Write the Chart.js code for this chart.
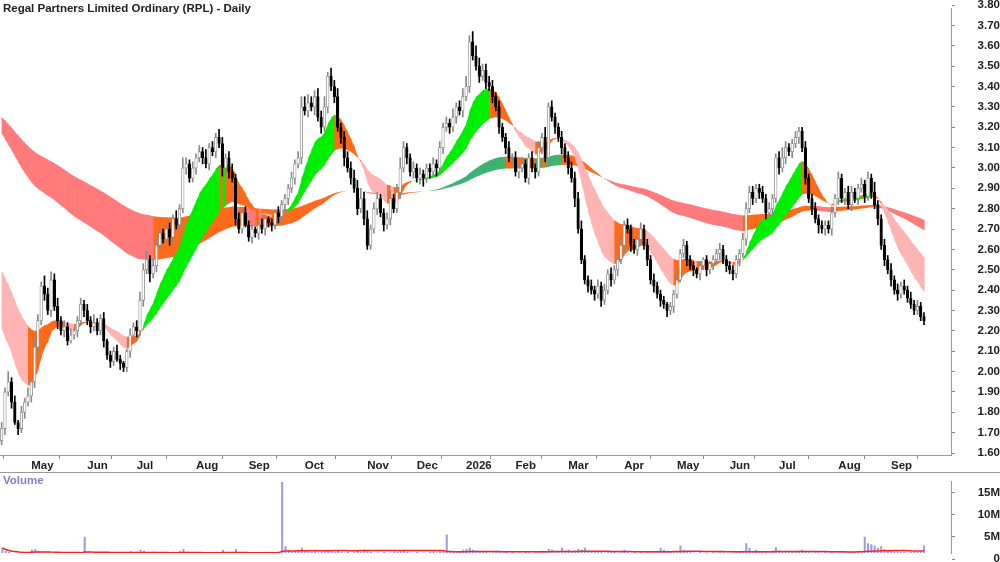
<!DOCTYPE html>
<html><head><meta charset="utf-8">
<script src="https://cdn.jsdelivr.net/npm/chart.js@4"></script>
<style>
body{margin:0;background:#fff;width:1000px;height:562px;overflow:hidden;position:relative;font-family:"Liberation Sans",Arial,sans-serif}
#t{position:absolute;left:3px;top:2px;font-weight:bold;font-size:11.5px;color:#222;z-index:2}
#v{position:absolute;left:3px;top:474px;font-weight:bold;font-size:11.5px;color:#8080c8;z-index:2}
#c1w{position:absolute;left:0;top:0;width:1000px;height:472px}
#c2w{position:absolute;left:0;top:472px;width:1000px;height:90px;border-top:1px solid #999;box-sizing:border-box}
</style></head><body>
<div id="t">Regal Partners Limited Ordinary (RPL) - Daily</div>
<div id="v">Volume</div>
<div id="c1w"><canvas id="c1"></canvas></div>
<div id="c2w"><canvas id="c2"></canvas></div>
<script>
const closes=[1.72,1.90,1.95,1.85,1.75,1.72,1.80,1.85,1.88,1.95,
2.12,2.25,2.42,2.38,2.30,2.45,2.32,2.25,2.20,2.22,
2.15,2.18,2.20,2.25,2.33,2.30,2.25,2.22,2.24,2.20,
2.26,2.15,2.08,2.05,2.10,2.06,2.04,2.02,2.10,2.18,
2.22,2.20,2.35,2.50,2.55,2.48,2.52,2.62,2.68,2.65,
2.70,2.66,2.75,2.72,2.80,3.00,3.02,2.95,3.00,3.05,
3.08,3.05,3.02,3.10,3.08,3.15,3.12,3.00,3.05,2.98,
2.95,2.75,2.70,2.78,2.72,2.66,2.70,2.68,2.72,2.70,
2.75,2.73,2.72,2.78,2.76,2.82,2.85,2.90,2.95,3.02,
3.05,3.30,3.28,3.32,3.30,3.35,3.25,3.20,3.30,3.45,
3.40,3.35,3.20,3.15,3.05,3.00,2.95,2.90,2.80,2.85,
2.75,2.62,2.70,2.80,2.85,2.78,2.72,2.75,2.85,2.80,
2.88,3.00,3.10,3.05,2.98,3.00,2.95,2.97,2.95,3.00,
2.98,3.02,3.00,3.10,3.20,3.22,3.20,3.25,3.30,3.28,
3.35,3.40,3.62,3.55,3.50,3.45,3.48,3.42,3.40,3.35,
3.30,3.20,3.15,3.10,3.05,3.05,2.98,3.00,3.02,2.95,
3.05,3.00,2.98,3.10,3.15,3.05,3.30,3.25,3.20,3.15,
3.10,3.05,3.00,2.95,2.85,2.70,2.55,2.45,2.42,2.40,
2.38,2.42,2.35,2.40,2.48,2.45,2.50,2.55,2.62,2.72,
2.70,2.62,2.60,2.65,2.70,2.62,2.55,2.45,2.42,2.38,
2.35,2.33,2.30,2.32,2.38,2.45,2.58,2.62,2.55,2.52,
2.50,2.48,2.52,2.55,2.50,2.53,2.55,2.58,2.60,2.55,
2.52,2.50,2.48,2.55,2.58,2.65,2.80,2.88,2.85,2.90,
2.88,2.85,2.78,2.80,2.85,3.05,3.00,3.05,3.10,3.08,
3.12,3.15,3.18,3.10,2.95,2.85,2.80,2.75,2.72,2.70,
2.72,2.70,2.78,2.85,2.95,2.85,2.88,2.82,2.88,2.85,
2.90,2.92,2.86,2.95,2.88,2.82,2.75,2.62,2.55,2.50,
2.45,2.40,2.38,2.42,2.40,2.36,2.33,2.30,2.32,2.27,2.25];
const firstOpen=1.66;
const upWickCents="3252313242432534342323123232422312232113234342323223242532323242324323423232212321213222323554334352434233344534233223424532232322232323242345355433332322323232232325232232333342232323232342323232323222122323222121212232222223333223232235322322322322223232233223232522323232323232";
const loWickCents="2323132323342323242321232323222323213223232324232224323232232323232423232212323232323433232323242323232342323232223232322323232342324332323232322323232323232322323232323232324222323232232323232322323232323212323232323232323232323232323232323232323242323232323232323232323232";
const volumes=[2.5,1.8,1.5,1.2,1.4,1.0,1.3,1.1,1.6,2.0,
2.2,1.8,1.5,1.3,1.6,1.2,1.1,1.4,1.0,1.2,
1.3,1.1,1.5,1.2,1.4,5.0,1.6,1.2,1.1,1.3,
1.0,1.2,1.4,1.1,0.9,1.3,1.2,1.0,1.5,1.7,
1.4,1.6,2.0,1.8,1.5,1.3,1.6,1.4,1.2,1.5,
1.3,1.1,1.6,1.4,1.8,2.2,1.6,1.3,1.5,1.2,
1.4,1.3,1.1,1.5,1.2,1.6,1.4,2.0,1.5,1.3,
1.6,2.2,1.5,1.2,1.4,1.3,1.1,1.2,1.5,1.3,
1.2,1.4,1.6,1.3,1.5,18.0,2.8,2.0,1.6,1.8,
2.0,2.5,1.8,1.6,1.5,1.7,1.4,1.6,1.8,2.0,
1.7,1.5,1.8,1.6,1.4,1.5,1.3,1.6,1.8,1.5,
2.0,1.7,1.5,1.3,1.4,1.2,1.5,1.3,1.4,1.6,
1.5,1.8,2.0,1.6,1.4,1.3,1.5,1.2,1.4,1.3,
1.5,1.6,1.4,1.7,1.9,5.5,1.8,1.5,1.6,1.7,
2.0,2.2,2.5,2.0,1.8,1.6,1.7,1.5,1.4,1.6,
1.8,1.5,1.4,1.6,1.3,1.5,1.2,1.4,1.3,1.5,
1.4,1.2,1.6,1.5,1.8,1.5,2.2,2.0,1.6,1.5,
2.5,1.8,2.0,1.6,1.8,2.2,2.0,2.5,1.8,1.6,
1.5,1.7,1.6,1.4,1.8,1.5,1.6,1.4,1.7,2.0,
1.6,1.4,1.5,1.3,1.5,1.4,1.6,1.5,1.7,1.8,
2.5,2.0,1.8,1.6,1.5,1.7,3.0,2.0,1.6,1.5,
1.4,1.3,1.5,1.2,1.4,1.3,1.5,1.4,1.6,1.5,
1.3,1.2,1.4,1.5,1.6,1.8,3.5,2.5,1.8,2.0,
1.7,1.5,1.6,1.4,1.8,2.6,1.8,1.6,1.5,1.7,
1.6,1.5,1.8,2.0,1.6,1.5,1.4,1.6,1.5,1.4,
1.5,1.3,1.6,1.4,1.7,1.5,1.6,1.4,1.5,1.6,
1.5,1.7,5.0,3.5,3.3,3.0,2.5,2.8,2.2,2.0,
1.8,1.6,1.7,1.5,1.6,1.4,1.5,1.6,1.5,1.7,3.0];
const monthTickIdx=[9,26,41,59,75,92,111,126,141,156,172,189,205,221,236,254,270];
const monthLabels=["May","Jun","Jul","Aug","Sep","Oct","Nov","Dec","2026","Feb","Mar","Apr","May","Jun","Jul","Aug","Sep"];
const priceTicks=[1.6,1.7,1.8,1.9,2.0,2.1,2.2,2.3,2.4,2.5,2.6,2.7,2.8,2.9,3.0,3.1,3.2,3.3,3.4,3.5,3.6,3.7,3.8];
const volTicks=[0,5,10,15];
const fastSeed=[2.30,2.55], slowSeed=[3.20,3.27];
const fastPeriods=[12,30], slowPeriods=[90,150];

const N=closes.length;
const opens=closes.map((c,i)=>i?closes[i-1]:firstOpen);
const highs=closes.map((c,i)=>Math.max(c,opens[i])+(+(upWickCents[i]||2))/100);
const lows=closes.map((c,i)=>Math.min(c,opens[i])-(+(loWickCents[i]||2))/100);
function ema(p,seed){let a=2/(p+1),v=seed;return closes.map(c=>v=v+(c-v)*a);}
const fS=ema(fastPeriods[0],fastSeed[0]),fL=ema(fastPeriods[1],fastSeed[1]);
const sS=ema(slowPeriods[0],slowSeed[0]),sL=ema(slowPeriods[1],slowSeed[1]);
const volAvg=volumes.map((v,i)=>{let s=0,n=0;for(let j=Math.max(0,i-49);j<=i;j++){s+=volumes[j];n++;}return s/n;});

const ribbons=[{a:sS,b:sL,c:['#3cb371','#ff6a1a','#ff7a7a']},{a:fS,b:fL,c:['#00ee00','#ff6a1a','#ffb4b4']}];
const ribbonPlugin={id:'rib',beforeDatasetsDraw(ch){const x=ch.scales.x,y=ch.scales.y,ctx=ch.ctx,ca=ch.chartArea;
 ctx.save();ctx.beginPath();ctx.rect(ca.left,ca.top,ca.width,ca.height);ctx.clip();
 for(const r of ribbons){for(let i=0;i<N-1;i++){
  const upA=r.a[i+1]>r.a[i],upB=r.b[i+1]>r.b[i];
  let col=r.c[1];
  if(upA&&upB&&r.a[i]>r.b[i])col=r.c[0];else if(!upA&&!upB&&r.a[i]<r.b[i])col=r.c[2];
  const x0=x.getPixelForValue(i),x1=x.getPixelForValue(i+1)+0.6;
  ctx.beginPath();ctx.moveTo(x0,y.getPixelForValue(r.a[i]));ctx.lineTo(x1,y.getPixelForValue(r.a[i+1]));
  ctx.lineTo(x1,y.getPixelForValue(r.b[i+1]));ctx.lineTo(x0,y.getPixelForValue(r.b[i]));ctx.closePath();
  ctx.fillStyle=col;ctx.fill();}}
 ctx.restore();}};

function fitY(ch,refVal,refPx,pxPerUnit){for(let k=0;k<3;k++){const ca=ch.chartArea;
 ch.options.scales.y.max=refVal+(refPx-ca.top)/pxPerUnit;
 ch.options.scales.y.min=refVal-(ca.bottom-refPx)/pxPerUnit;ch.update('none');}}

const font={family:'"Liberation Sans",Arial,sans-serif',size:11.5,weight:'bold'};
const xCommon={type:'linear',min:-0.5,max:288.2,offset:false,grid:{drawOnChartArea:false,drawTicks:true,tickLength:4,color:'#888'},border:{color:'#999'}};
const up=closes.map((c,i)=>c>=opens[i]);
const c1=new Chart(document.getElementById('c1'),{
 data:{datasets:[
  {type:'bar',order:2,grouped:false,data:closes.map((c,i)=>({x:i,y:[lows[i],highs[i]]})),backgroundColor:up.map(u=>u?'#8a8a8a':'#000'),barThickness:1,borderWidth:0},
  {type:'bar',order:1,grouped:false,data:closes.map((c,i)=>({x:i,y:[opens[i],c]})),backgroundColor:up.map(u=>u?'#fff':'#000'),borderColor:up.map(u=>u?'#8a8a8a':'#000'),borderWidth:0.8,borderSkipped:false,barThickness:2.6}
 ]},
 options:{responsive:true,maintainAspectRatio:false,animation:false,events:[],
  layout:{padding:0},
  plugins:{legend:{display:false},tooltip:{enabled:false}},
  scales:{
   x:{...xCommon,afterFit(s){s.height=17;},afterBuildTicks(s){s.ticks=monthTickIdx.map(v=>({value:v}));},
      ticks:{font,color:'#222',align:'start',padding:0,maxRotation:0,autoSkip:false,callback:(v)=>monthLabels[monthTickIdx.indexOf(v)]}},
   y:{position:'right',min:1.590,max:3.8246,afterFit(s){s.width=49;},afterBuildTicks(s){s.ticks=priceTicks.map(v=>({value:v}));},
      grid:{drawOnChartArea:false,tickLength:4,color:'#888'},border:{color:'#999'},
      ticks:{font,color:'#222',crossAlign:'far',padding:2,callback:v=>v.toFixed(2)}}
  }},
 plugins:[ribbonPlugin]});
fitY(c1,1.6,453,203.6);

const c2=new Chart(document.getElementById('c2'),{
 data:{datasets:[
  {type:'line',order:1,data:volAvg.map((v,i)=>({x:i,y:v})),borderColor:'#ff2020',borderWidth:1.5,pointRadius:0,tension:0},
  {type:'bar',order:2,grouped:false,data:volumes.map((v,i)=>({x:i,y:v})),backgroundColor:'#9c9ce0',barThickness:1.4}
 ]},
 options:{responsive:true,maintainAspectRatio:false,animation:false,events:[],
  layout:{padding:{top:2,bottom:3}},
  plugins:{legend:{display:false},tooltip:{enabled:false}},
  scales:{
   x:{...xCommon,display:false},
   y:{position:'right',min:0,max:18.9,afterFit(s){s.width=49;},afterBuildTicks(s){s.ticks=volTicks.map(v=>({value:v}));},
      grid:{drawOnChartArea:false,tickLength:4,color:'#888'},border:{color:'#999'},
      ticks:{font,color:'#222',crossAlign:'far',padding:2,callback:v=>v?v+'M':'0'}}
  }}});
fitY(c2,0,86,4.4);
</script></body></html>
